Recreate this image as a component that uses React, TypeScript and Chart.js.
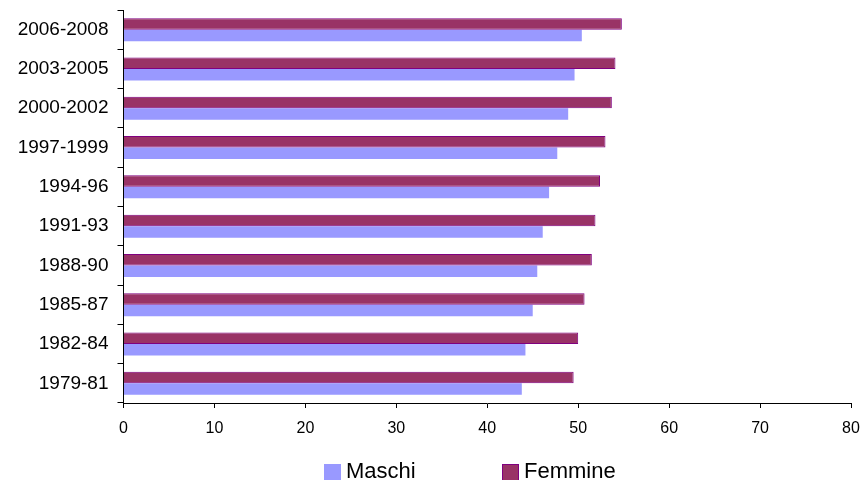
import React, { useEffect, useRef } from "react";
import { Chart, registerables } from "chart.js";

Chart.register(...registerables);

const categories = [
  "2006-2008",
  "2003-2005",
  "2000-2002",
  "1997-1999",
  "1994-96",
  "1991-93",
  "1988-90",
  "1985-87",
  "1982-84",
  "1979-81",
];
const maschi = [50.4, 49.6, 48.9, 47.7, 46.8, 46.1, 45.5, 45.0, 44.2, 43.8];
const femmine = [54.8, 54.1, 53.7, 53.0, 52.4, 51.9, 51.5, 50.7, 50.0, 49.5];
const xTicks = [0, 10, 20, 30, 40, 50, 60, 70, 80];
const legendOrder = ["Maschi", "Femmine"];

const FONT = "'Liberation Sans', Arial, sans-serif";

const legendPlugin = {
  id: "customLegend",
  afterDraw(chart: any) {
    const ctx = chart.ctx;
    ctx.save();
    ctx.font = `22px ${FONT}`;
    ctx.textBaseline = "alphabetic";
    ctx.fillStyle = "#000";
    const starts = [324, 502];
    legendOrder.forEach((name, i) => {
      const ds = chart.data.datasets.find((d: any) => d.label === name);
      if (!ds) return;
      const x = starts[i];
      const boxTop = 464;
      const size = 17;
      ctx.fillStyle = ds.backgroundColor;
      ctx.fillRect(x, boxTop, size, size);
      if (ds.borderWidth) {
        ctx.strokeStyle = ds.borderColor;
        ctx.lineWidth = 1;
        ctx.strokeRect(x + 0.5, boxTop + 0.5, size - 1, size - 1);
      }
      ctx.fillStyle = "#000";
      ctx.fillText(name, x + size + 5, 478);
    });
    ctx.restore();
  },
};

export default function App() {
  const ref = useRef<HTMLCanvasElement | null>(null);
  useEffect(() => {
    if (!ref.current) return;
    const chart = new Chart(ref.current, {
      type: "bar",
      data: {
        labels: categories,
        datasets: [
          {
            label: "Femmine",
            data: femmine,
            backgroundColor: "#993366",
            borderColor: "#800080",
            borderWidth: 1,
            categoryPercentage: 0.585,
            barPercentage: 1,
          },
          {
            label: "Maschi",
            data: maschi,
            backgroundColor: "#9999FF",
            borderColor: "#9999FF",
            borderWidth: 0,
            categoryPercentage: 0.585,
            barPercentage: 1,
          },
        ],
      },
      options: {
        indexAxis: "y",
        animation: false,
        responsive: true,
        maintainAspectRatio: false,
        layout: { padding: { left: 0, right: 12, top: 10, bottom: 42 } },
        plugins: {
          legend: { display: false },
          tooltip: { enabled: false },
        },
        scales: {
          x: {
            min: 0,
            max: 80,
            afterBuildTicks: (scale: any) => {
              scale.ticks = xTicks.map((v) => ({ value: v }));
            },
            afterFit: (scale: any) => {
              scale.height = 35;
              scale.paddingLeft = 0;
              scale.paddingRight = 0;
            },
            grid: {
              display: true,
              drawOnChartArea: false,
              drawTicks: true,
              tickLength: 5,
              color: "#000",
            },
            border: { display: true, color: "#000", width: 1 },
            ticks: {
              color: "#000",
              padding: 11,
              font: { family: FONT, size: 16 },
            },
          },
          y: {
            afterFit: (scale: any) => {
              scale.width = 123.5;
              scale.paddingTop = 0;
              scale.paddingBottom = 0;
            },
            grid: {
              display: true,
              offset: true,
              drawOnChartArea: false,
              drawTicks: true,
              tickLength: 6,
              color: "#000",
            },
            border: { display: true, color: "#000", width: 1 },
            ticks: {
              color: "#000",
              padding: 9,
              font: { family: FONT, size: 19 },
            },
          },
        },
      },
      plugins: [legendPlugin],
    } as any);
    return () => chart.destroy();
  }, []);
  return (
    <div style={{ position: "fixed", left: 0, top: 0, width: 863, height: 480, background: "#fff" }}>
      <canvas ref={ref} />
    </div>
  );
}
